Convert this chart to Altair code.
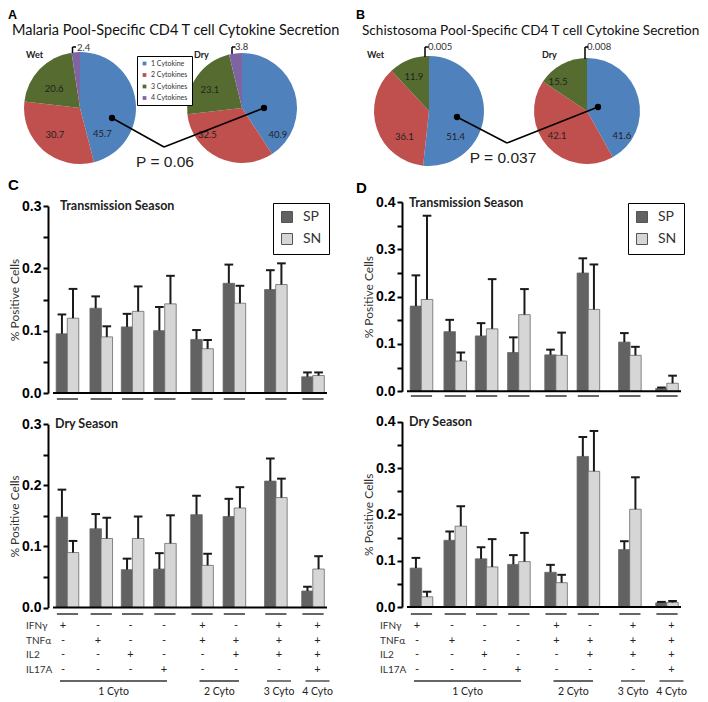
import altair as alt
import pandas as pd
import numpy as np

# ---------------- data ----------------
cyto_cats = ["1 Cytokine", "2 Cytokines", "3 Cytokines", "4 Cytokines"]
malaria_wet = [45.7, 30.7, 20.6, 2.4]
malaria_dry = [40.9, 32.5, 23.1, 3.8]
schisto_wet = [51.4, 36.1, 11.9, 0.005]
schisto_dry = [41.6, 42.1, 15.5, 0.008]
p_malaria = "P = 0.06"
p_schisto = "P = 0.037"

series = ["SP", "SN"]
cytokines = ["IFNγ", "TNFα", "IL2", "IL17A"]
combos = [
    ["+", "-", "-", "-"],
    ["-", "+", "-", "-"],
    ["-", "-", "+", "-"],
    ["-", "-", "-", "+"],
    ["+", "+", "-", "-"],
    ["-", "+", "+", "-"],
    ["+", "+", "+", "-"],
    ["+", "+", "+", "+"],
]
cyto_group_labels = ["1 Cyto", "2 Cyto", "3 Cyto", "4 Cyto"]
cyto_group_members = [[0, 1, 2, 3], [4, 5], [6], [7]]

# Malaria (C)
mal_trans_sp = [0.095, 0.136, 0.106, 0.100, 0.086, 0.176, 0.166, 0.026]
mal_trans_sp_err = [0.031, 0.019, 0.021, 0.038, 0.015, 0.030, 0.031, 0.007]
mal_trans_sn = [0.120, 0.090, 0.131, 0.143, 0.071, 0.144, 0.174, 0.028]
mal_trans_sn_err = [0.047, 0.017, 0.040, 0.045, 0.014, 0.028, 0.034, 0.005]
mal_dry_sp = [0.148, 0.129, 0.062, 0.063, 0.152, 0.149, 0.207, 0.027]
mal_dry_sp_err = [0.045, 0.024, 0.018, 0.026, 0.031, 0.029, 0.037, 0.007]
mal_dry_sn = [0.090, 0.113, 0.113, 0.105, 0.069, 0.163, 0.180, 0.063]
mal_dry_sn_err = [0.019, 0.034, 0.036, 0.046, 0.019, 0.034, 0.031, 0.021]

# Schistosoma (D)
sch_trans_sp = [0.180, 0.126, 0.117, 0.082, 0.077, 0.250, 0.104, 0.006]
sch_trans_sp_err = [0.065, 0.025, 0.027, 0.032, 0.011, 0.031, 0.019, 0.002]
sch_trans_sn = [0.194, 0.064, 0.132, 0.162, 0.076, 0.173, 0.076, 0.017]
sch_trans_sn_err = [0.177, 0.018, 0.105, 0.054, 0.048, 0.095, 0.018, 0.016]
sch_dry_sp = [0.084, 0.144, 0.104, 0.092, 0.075, 0.325, 0.124, 0.009]
sch_dry_sp_err = [0.022, 0.019, 0.025, 0.020, 0.016, 0.042, 0.018, 0.002]
sch_dry_sn = [0.022, 0.1745, 0.0865, 0.098, 0.0525, 0.293, 0.211, 0.0096]
sch_dry_sn_err = [0.011, 0.043, 0.060, 0.062, 0.017, 0.087, 0.069, 0.0034]

# ---------------- layout / style ----------------
OFF = 8                      # page margin (reference px -> chart px)
W, H = 692, 694
GROUP_POS = [15, 50, 82.5, 116, 154.5, 188, 231, 269.5]
X_SPAN = 284
BAR_W = 11.5
COL_X = {"C": 48, "D": 402}
PIE_COLORS = ["#4F81BD", "#C0504D", "#556B2F", "#8064A2"]
BAR_COLORS = ["#626262", "#d6d6d6"]
SANS = "Lato"
ARIAL = "Liberation Sans"


def label(text, x, y, size, font=SANS, weight="normal", color="#222",
          align="left", baseline="middle", angle=0):
    return alt.Chart(pd.DataFrame({"t": [text]})).mark_text(
        fontSize=size, font=font, fontWeight=weight, color=color,
        align=align, baseline=baseline, angle=angle
    ).encode(x=alt.value(x - OFF), y=alt.value(y - OFF), text="t:N")


def seg(x1, y1, x2, y2, width=1.5, color="black"):
    return alt.Chart(pd.DataFrame({"d": [0]})).mark_rule(
        color=color, strokeWidth=width
    ).encode(x=alt.value(x1 - OFF), y=alt.value(y1 - OFF),
             x2=alt.value(x2 - OFF), y2=alt.value(y2 - OFF))


def dot(x, y):
    return alt.Chart(pd.DataFrame({"d": [0]})).mark_circle(
        size=40, color="black", opacity=1
    ).encode(x=alt.value(x - OFF), y=alt.value(y - OFF))


def pie(values, cx, cy, r, lab_deg, lab_r, small_xy, bracket_x, legend=None):
    df = pd.DataFrame({"cat": cyto_cats, "v": values, "idx": list(range(4))})
    df["lab"] = [str(v) for v in values]
    df["lt"] = np.radians(lab_deg + [0])
    df["lr"] = lab_r + [0]
    base = alt.Chart(df)
    arc = base.mark_arc(outerRadius=r).encode(
        x=alt.value(cx - OFF), y=alt.value(cy - OFF),
        theta=alt.Theta("v:Q", stack=True),
        order=alt.Order("idx:Q"),
        color=alt.Color("cat:N", scale=alt.Scale(domain=cyto_cats, range=PIE_COLORS),
                        legend=legend),
    )
    txt = base.transform_filter("datum.idx < 3").mark_text(
        fontSize=9.5, font=SANS, color="#222"
    ).encode(
        x=alt.value(cx - OFF), y=alt.value(cy - OFF),
        theta=alt.Theta("lt:Q", scale=None),
        radius=alt.Radius("lr:Q", scale=None),
        text="lab:N",
    )
    small = base.transform_filter("datum.idx == 3").mark_text(
        fontSize=9.5, font=SANS, color="#333", align="left"
    ).encode(x=alt.value(small_xy[0] - OFF), y=alt.value(small_xy[1] - OFF), text="lab:N")
    top = cy - r
    return alt.layer(arc, txt, small,
                     seg(bracket_x, top + 1, bracket_x, 47, 1.5),
                     seg(bracket_x, 47, bracket_x + 3.5, 47, 1.5))


def bar_panel(sp, sp_err, sn, sn_err, col, y0, y_top, ymax, title, title_xy,
              underline_y, legend_xy=None):
    rows = []
    for i in range(len(GROUP_POS)):
        for s, vals, errs, sgn in (("SP", sp, sp_err, -1), ("SN", sn, sn_err, 1)):
            xc = GROUP_POS[i] + sgn * BAR_W / 2
            rows.append({"series": s, "grp": i, "v": vals[i], "hi": vals[i] + errs[i],
                         "xc": xc, "c0": xc - 4.5, "c1": xc + 4.5})
    df = pd.DataFrame(rows)
    xs = alt.Scale(domain=[0, X_SPAN],
                   range=[COL_X[col] - OFF, COL_X[col] + X_SPAN - OFF])
    ys = alt.Scale(domain=[0, ymax], range=[y0 - OFF, y_top - OFF], nice=False)
    ticks = [round(k * 0.05, 2) for k in range(int(round(ymax / 0.05)) + 1)]
    yaxis = alt.Axis(
        orient="left", offset=-(COL_X[col] - OFF), values=ticks,
        labelExpr="(round(datum.value*20) % 2 == 0) ? format(datum.value, '.1f') : ''",
        domainColor="black", domainWidth=2, tickColor="black", tickWidth=2, tickSize=5,
        labelFont=ARIAL, labelFontWeight="bold", labelFontSize=14, labelColor="black",
        labelPadding=2, grid=False,
        title="% Positive Cells", titleFont=SANS, titleFontSize=12,
        titleFontWeight="normal", titleColor="#333", titlePadding=0,
    )
    if legend_xy is not None:
        leg = alt.Legend(title=None, orient="none", legendX=legend_xy[0] - OFF,
                         legendY=legend_xy[1] - OFF, strokeColor="black", padding=7,
                         fillColor="white", symbolType="square", symbolSize=121,
                         symbolStrokeColor="#555", symbolStrokeWidth=1,
                         labelFont=SANS, labelFontSize=14, labelColor="#333",
                         rowPadding=6, labelOffset=9)
    else:
        leg = None
    base = alt.Chart(df)
    bars = base.mark_bar(size=BAR_W, stroke="#6a6a6a", strokeWidth=0.8).encode(
        x=alt.X("xc:Q", scale=xs, axis=None),
        y=alt.Y("v:Q", scale=ys, axis=yaxis),
        color=alt.Color("series:N", scale=alt.Scale(domain=series, range=BAR_COLORS),
                        legend=leg),
    )
    err = base.mark_rule(color="#1a1a1a", strokeWidth=2).encode(
        x=alt.X("xc:Q", scale=xs, axis=None),
        y=alt.Y("v:Q", scale=ys), y2="hi:Q")
    caps = base.mark_rule(color="#1a1a1a", strokeWidth=2).encode(
        x=alt.X("c0:Q", scale=xs, axis=None), x2="c1:Q",
        y=alt.Y("hi:Q", scale=ys))
    bl = alt.Chart(pd.DataFrame({"a": [0], "b": [X_SPAN], "z": [0]})).mark_rule(
        color="black", strokeWidth=2).encode(
        x=alt.X("a:Q", scale=xs, axis=None), x2="b:Q", y=alt.Y("z:Q", scale=ys))
    ul = alt.Chart(pd.DataFrame({"a": [p - 11 for p in GROUP_POS],
                                 "b": [p + 11 for p in GROUP_POS]})).mark_rule(
        color="#555", strokeWidth=1.8).encode(
        x=alt.X("a:Q", scale=xs, axis=None), x2="b:Q",
        y=alt.value(underline_y - OFF))
    ttl = label(title, title_xy[0], title_xy[1], 12.5, weight="bold", color="#222")
    return alt.layer(bars, err, caps, bl, ul, ttl)


def table(col, row_label_x):
    xs = alt.Scale(domain=[0, X_SPAN],
                   range=[COL_X[col] - OFF, COL_X[col] + X_SPAN - OFF])
    ysc = alt.Scale(type="point", domain=cytokines, range=[626 - OFF, 670 - OFF], padding=0)
    rows = []
    for i, combo in enumerate(combos):
        for j, c in enumerate(cytokines):
            rows.append({"x": GROUP_POS[i], "row": c, "sym": combo[j]})
    df = pd.DataFrame(rows)
    syms = alt.Chart(df).mark_text(fontSize=11, font=SANS, color="#222").encode(
        x=alt.X("x:Q", scale=xs, axis=None),
        y=alt.Y("row:N", scale=ysc, axis=None), text="sym:N")
    names = alt.Chart(pd.DataFrame({"row": cytokines})).mark_text(
        fontSize=10, font=SANS, color="#333", align="left").encode(
        x=alt.value(row_label_x - OFF),
        y=alt.Y("row:N", scale=ysc, axis=None), text="row:N")
    br = []
    for lab, mem in zip(cyto_group_labels, cyto_group_members):
        pad = 12 if len(mem) == 1 else 3
        a = GROUP_POS[mem[0]] - pad
        b = GROUP_POS[mem[-1]] + pad
        br.append({"lab": lab, "a": a, "b": b, "m": (a + b) / 2})
    bdf = pd.DataFrame(br)
    lines = alt.Chart(bdf).mark_rule(color="#333", strokeWidth=1.3).encode(
        x=alt.X("a:Q", scale=xs, axis=None), x2="b:Q", y=alt.value(681 - OFF))
    labs = alt.Chart(bdf).mark_text(fontSize=10.5, font=SANS, color="#222").encode(
        x=alt.X("m:Q", scale=xs, axis=None), y=alt.value(692 - OFF), text="lab:N")
    return alt.layer(syms, names, lines, labs)


pie_legend = alt.Legend(title=None, orient="none", legendX=137 - OFF, legendY=56 - OFF,
                        strokeColor="black", padding=4, fillColor="white",
                        symbolType="square", symbolSize=14, symbolStrokeWidth=0,
                        labelFont=SANS, labelFontSize=7, labelColor="#333",
                        rowPadding=3.5, labelOffset=3)

layers = [
    # panel letters and titles
    label("A", 8, 15, 12.5, font=ARIAL, weight="bold", color="black"),
    label("Malaria Pool-Specific CD4 T cell Cytokine Secretion", 12, 31, 14.5,
          color="#111"),
    label("B", 356, 15, 12.5, font=ARIAL, weight="bold", color="black"),
    label("Schistosoma Pool-Specific CD4 T cell Cytokine Secretion", 362, 31, 13.6,
          color="#111"),
    label("C", 8, 185, 15, font=ARIAL, weight="bold", color="black"),
    label("D", 356, 188, 15, font=ARIAL, weight="bold", color="black"),
    label("Wet", 26, 55, 9, weight="bold"),
    label("Dry", 194, 55, 9, weight="bold"),
    label("Wet", 367, 55, 9, weight="bold"),
    label("Dry", 542, 55, 9, weight="bold"),
    # pies
    pie(malaria_wet, 80, 108, 56, [139, 223, 306], [34, 37, 32], (77, 48), 72.5, pie_legend),
    pie(malaria_dry, 242, 108, 55, [127, 232, 300], [45, 44, 37], (235, 47), 232),
    pie(schisto_wet, 429, 111, 55, [134, 223, 336], [37, 36, 37], (428, 47), 425),
    pie(schisto_dry, 587, 111, 53, [126, 230, 315], [43, 39, 41], (587, 47), 585),
    # connectors and p-values
    seg(112, 118, 164, 147), seg(164, 147, 264, 108), dot(112, 118), dot(264, 108),
    label(p_malaria, 165, 162, 15.5, font=ARIAL, color="#222", align="center"),
    seg(457, 117, 507, 143), seg(507, 143, 598, 107), dot(457, 117), dot(598, 107),
    label(p_schisto, 503, 158, 15.5, font=ARIAL, color="#222", align="center"),
    # bar panels
    bar_panel(mal_trans_sp, mal_trans_sp_err, mal_trans_sn, mal_trans_sn_err, "C",
              393, 206, 0.3, "Transmission Season", (60, 206), 399, (273, 203)),
    bar_panel(mal_dry_sp, mal_dry_sp_err, mal_dry_sn, mal_dry_sn_err, "C",
              607.5, 424.3, 0.3, "Dry Season", (55, 424), 614),
    bar_panel(sch_trans_sp, sch_trans_sp_err, sch_trans_sn, sch_trans_sn_err, "D",
              391.3, 202, 0.4, "Transmission Season", (409, 203), 396, (628, 203)),
    bar_panel(sch_dry_sp, sch_dry_sp_err, sch_dry_sn, sch_dry_sn_err, "D",
              607, 421.7, 0.4, "Dry Season", (409, 422), 614),
    table("C", 26),
    table("D", 380),
]

chart = alt.layer(*layers).resolve_scale(
    x="independent", y="independent", color="independent", theta="independent"
).properties(
    width=W, height=H, padding=0, background="white",
    autosize=alt.AutoSizeParams(type="none"),
).configure_view(stroke=None)

chart.save("out.html", embed_options={"renderer": "svg", "actions": False})
